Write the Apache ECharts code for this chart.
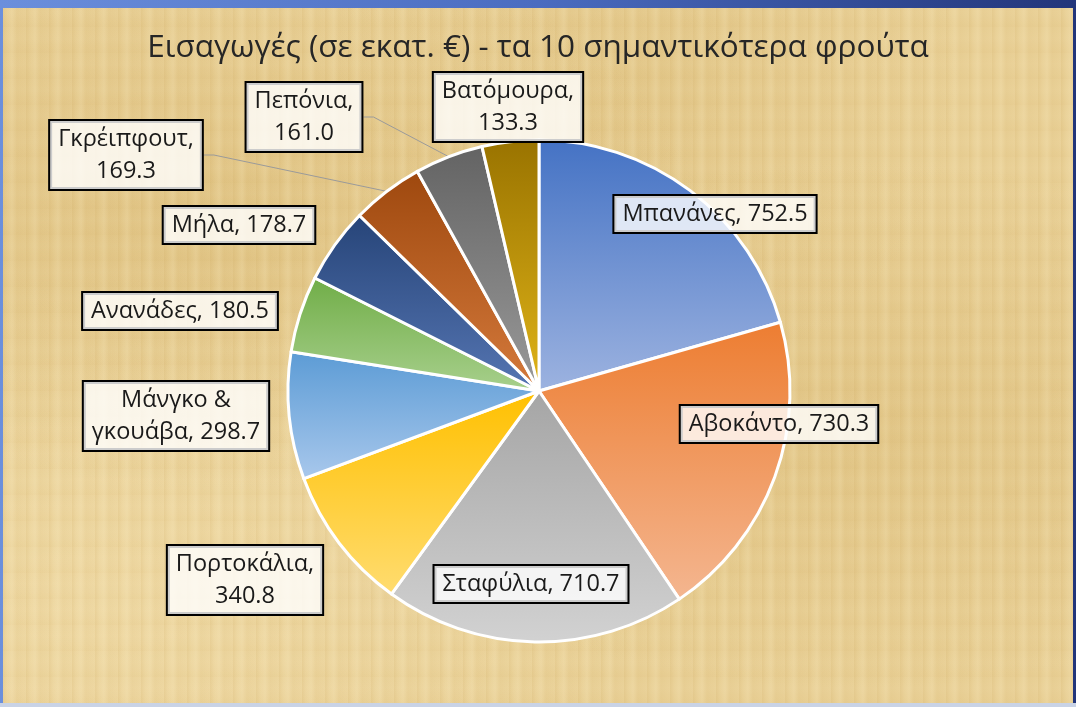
<!DOCTYPE html>
<html>
<head>
<meta charset="utf-8">
<script src="https://cdn.jsdelivr.net/npm/echarts@6/dist/echarts.min.js"></script>
<style>
  html, body { margin: 0; padding: 0; }
  body {
    width: 1076px; height: 707px; overflow: hidden;
    background: linear-gradient(90deg, #6b8fdc 0%, #4a6cc0 50%, #22357a 100%);
    position: relative;
  }
  #frame {
    position: absolute; left: 3px; top: 8px; width: 1070px; height: 695px;
    background-color: #e9d096;
    background-image:
      repeating-linear-gradient(90deg, rgba(190,150,70,0.12) 0px, rgba(190,150,70,0.00) 4px, rgba(255,245,210,0.14) 9px, rgba(190,150,70,0.06) 14px, rgba(190,150,70,0) 23px),
      repeating-linear-gradient(0deg, rgba(190,150,70,0.04) 0px, rgba(190,150,70,0) 7px, rgba(255,245,210,0.05) 15px, rgba(190,150,70,0) 26px),
      radial-gradient(ellipse at 20% 30%, rgba(200,160,80,0.25), rgba(200,160,80,0) 40%),
      radial-gradient(ellipse at 80% 60%, rgba(200,160,80,0.22), rgba(200,160,80,0) 45%),
      radial-gradient(ellipse at 60% 10%, rgba(200,160,80,0.18), rgba(200,160,80,0) 35%),
      radial-gradient(ellipse at 10% 85%, rgba(255,240,200,0.25), rgba(255,240,200,0) 40%);
  }
  #bottom { position: absolute; left: 0; top: 703px; width: 1076px; height: 4px; background: #c9d3e6; }
  #chart { position: absolute; left: 0; top: 0; width: 1076px; height: 707px; }
</style>
</head>
<body>
<div id="frame"></div>
<div id="bottom"></div>
<div id="chart"></div>
<script>
// Εισαγωγές φρούτων (σε εκατ. €)
const fruits = ['Μπανάνες', 'Αβοκάντο', 'Σταφύλια', 'Πορτοκάλια', 'Μάνγκο & γκουάβα',
  'Ανανάδες', 'Μήλα', 'Γκρέιπφουτ', 'Πεπόνια', 'Βατόμουρα'];
const imports = [752.5, 730.3, 710.7, 340.8, 298.7, 180.5, 178.7, 169.3, 161.0, 133.3];

// office colours: top shade, bottom shade
const topColors = ['#4472c4', '#ed7d31', '#a5a5a5', '#ffc000', '#5b9bd5', '#70ad47', '#264478', '#9e480e', '#636363', '#997300'];
const bottomColors = ['#9db3e0', '#f4b690', '#d2d2d2', '#ffdc70', '#a9c8ec', '#a8d08d', '#5676b3', '#d57a3c', '#9a9a9a', '#e0b418'];

// label box placement (centre of each box) and how the text wraps
const labelSpots = [[715, 214], [779, 424], [531, 584], [245, 580], [176, 416],
  [180, 311], [239, 225], [126, 155], [304, 117], [508, 107]];
// 0 = one line, 1 = value on second line, 2 = break inside the name
const wrapMode = [0, 0, 0, 1, 2, 0, 0, 1, 1, 1];
const withLine = [false, false, false, false, false, false, false, true, true, false];

let myChart = echarts.init(document.getElementById('chart'));

let data = fruits.map((name, i) => ({
  name: name,
  value: imports[i],
  itemStyle: {
    color: new echarts.graphic.LinearGradient(0, 0, 0, 1, [
      { offset: 0, color: topColors[i] },
      { offset: 1, color: bottomColors[i] }
    ])
  },
  labelLine: { show: withLine[i] }
}));

function labelText(p) {
  let v = p.value.toFixed(1);
  let m = wrapMode[p.dataIndex];
  if (m === 1) return p.name + ',\n' + v;
  if (m === 2) return p.name.replace('& ', '&\n') + ', ' + v;
  return p.name + ', ' + v;
}

var option = {
  title: {
    text: 'Εισαγωγές (σε εκατ. €) - τα 10 σημαντικότερα φρούτα',
    left: 'center',
    top: 27,
    textStyle: { fontFamily: 'Open Sans', fontSize: 31.5, fontWeight: 'normal', color: '#262626' }
  },
  series: [{
    type: 'pie',
    center: [539, 391],
    radius: 251,
    startAngle: 90,
    clockwise: true,
    avoidLabelOverlap: false,
    data: data,
    itemStyle: { borderColor: '#ffffff', borderWidth: 3 },
    label: {
      position: 'outside',
      formatter: labelText,
      fontFamily: 'Open Sans',
      fontSize: 23.5,
      color: '#1a1a1a',
      align: 'center',
      lineHeight: 32,
      backgroundColor: 'rgba(255,255,255,0.8)',
      borderColor: '#000000',
      borderWidth: 2,
      padding: [2, 8]
    },
    labelLine: {
      length: 10,
      length2: 10,
      lineStyle: { color: '#9a9a9a', width: 1 }
    },
    labelLayout: p => ({
      x: labelSpots[p.dataIndex][0],
      y: labelSpots[p.dataIndex][1],
      align: 'center',
      verticalAlign: 'middle'
    }),
    emphasis: { disabled: true },
    animation: false
  }]
};

myChart.setOption(option);
window.addEventListener('resize', () => {
  myChart.resize();
});
</script>
</body>
</html>
